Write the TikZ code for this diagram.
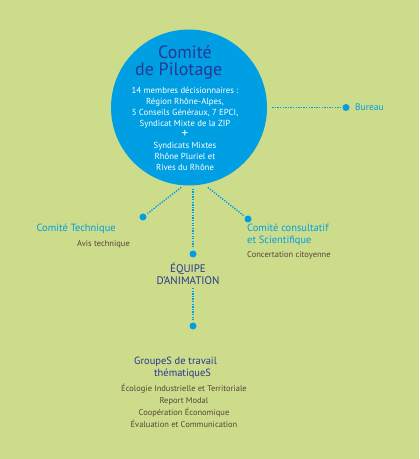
\documentclass[tikz,border=0pt]{standalone}
\usepackage{fontspec}
\setmainfont{PT Sans}
\usetikzlibrary{positioning}
\definecolor{zipgreen}{RGB}{204,220,139}
\definecolor{zipblue}{RGB}{0,159,227}
\definecolor{zipnavy}{RGB}{40,55,145}
\definecolor{zipbrown}{RGB}{85,70,55}

\tikzset{
  link/.style={zipblue, line width=1.4bp, dash pattern=on 1.3bp off 1.3bp},
  knob/.style={circle, fill=zipblue, inner sep=0pt, minimum size=7bp},
  organ/.style={font=\fontsize{10.5}{12.5}\selectfont, text=zipblue, inner sep=0pt, align=left},
  remark/.style={font=\fontsize{8.5}{12}\selectfont, text=zipbrown, inner sep=0pt},
  heading/.style={font=\fontsize{10.5}{12}\selectfont, text=zipnavy, inner sep=0pt}
}

\begin{document}
\begin{tikzpicture}[x=1bp, y=-1bp]
    \fill[zipgreen] (0,0) rectangle (419,459);
    \useasboundingbox (0,0) rectangle (419,459);

    % comite de pilotage
    \node[circle, fill=zipblue, minimum size=156bp, inner sep=0pt] (copil) at (189,107.5) {};
    \node[font=\fontsize{18}{17}\selectfont, text=zipnavy, inner sep=0pt, align=left, anchor=west] (copiltitle) at (135,62)
      {\hspace*{23bp}Comité\\de Pilotage};
    \node[font=\fontsize{8.8}{11}\selectfont, text=white, inner sep=0pt, align=center] (members) at (185,129)
      {14 membres décisionnaires :\\
       Région Rhône-Alpes,\\
       5 Conseils Généraux, 7 EPCI,\\
       Syndicat Mixte de la ZIP\\
       {\fontsize{13}{11}\selectfont +}\\
       Syndicats Mixtes\\
       Rhône Pluriel et\\
       Rives du Rhône};

    % bureau
    \node[knob] (bureaudot) at (346,107.5) {};
    \node[organ, anchor=west, font=\fontsize{9.5}{12}\selectfont] (bureau) at (355,107.5) {Bureau};
    \draw[link, shorten <=5bp, shorten >=2bp] (copil) -- (bureaudot);

    % comite technique
    \node[knob] (techdot) at (143,217) {};
    \node[organ, anchor=east] (tech) at (116,229) {Comité Technique};
    \node[remark, anchor=east] (technote) at (130,244) {Avis technique};
    \draw[link, shorten <=3bp, shorten >=2bp] (copil.-94) -- (techdot);

    % comite consultatif
    \node[knob] (consdot) at (248,219) {};
    \node[organ, anchor=west] (cons) at (247,235) {Comité consultatif\\et Scientifique};
    \node[remark, anchor=west] (consnote) at (247,255) {Concertation citoyenne};
    \draw[link, shorten <=5bp, shorten >=2bp] (copil.-79) -- (consdot);

    % equipe d'animation
    \node[knob] (equipedot) at (193,254) {};
    \node[heading, align=center, font=\fontsize{11}{12}\selectfont] (equipe) at (188,274) {ÉQUIPE\\D'ANIMATION};
    \draw[link, shorten <=3bp, shorten >=2bp] (copil.south -| equipedot) -- (equipedot);

    % groupes de travail
    \node[knob] (groupdot) at (193,326) {};
    \node[heading, anchor=west, align=left] (groupes) at (134,368)
      {GroupeS de travail\\\hspace*{20bp}thématiqueS};
    \node[remark, align=center] (themes) at (184,406)
      {Écologie Industrielle et Territoriale\\
       Report Modal\\
       Coopération Économique\\
       Évaluation et Communication};
    \draw[link, shorten <=3bp, shorten >=2bp] (equipe.south -| groupdot) -- (groupdot);
\end{tikzpicture}
\end{document}
